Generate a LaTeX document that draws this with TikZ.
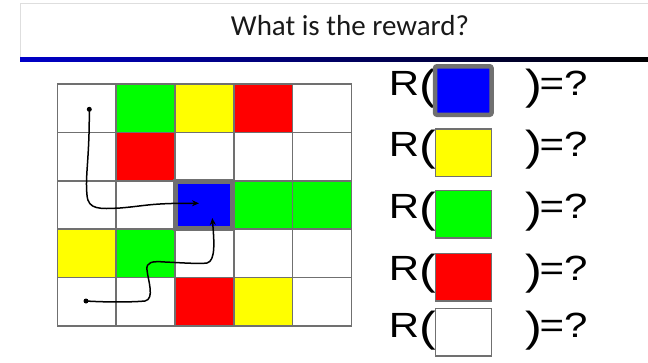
\documentclass[tikz,border=0pt]{standalone}
\usepackage{fontspec}
\usepackage{graphicx}
\setmainfont{Liberation Sans}
\newfontfamily\titlefont{Carlito}
\usetikzlibrary{arrows.meta}
\definecolor{cellgray}{RGB}{112,112,112}
\definecolor{framegray}{RGB}{222,222,222}
\definecolor{cgreen}{RGB}{0,255,0}
\definecolor{cyellow}{RGB}{255,255,0}
\definecolor{cred}{RGB}{255,0,0}
\definecolor{cblue}{RGB}{0,0,255}
\definecolor{lineblue}{RGB}{0,0,200}
\newcommand{\bigparen}[1]{\raisebox{-4pt}{\fontsize{42}{42}\selectfont #1}}
\tikzset{
  cell/.style={draw=cellgray, line width=1.6pt, minimum width=58.8pt, minimum height=48.4pt, inner sep=0pt},
  hicell/.style={draw=cellgray, line width=4.8pt, minimum width=57pt, minimum height=46.5pt, inner sep=0pt, fill=cblue},
  legbox/.style={draw=cellgray, line width=1.5pt, minimum width=56pt, minimum height=47.5pt, inner sep=0pt},
  hibox/.style={draw=cellgray, line width=4.5pt, rounded corners=2pt, minimum width=56.5pt, minimum height=48.5pt, inner sep=0pt, fill=cblue},
  lbl/.style={font=\fontsize{35}{35}\selectfont, inner sep=0pt, anchor=base west},
  dot/.style={circle, fill=black, inner sep=0pt, minimum size=5pt},
  traj/.style={black, line width=1.5pt, -{Stealth[length=7pt,width=6pt]}},
}
\begin{document}
\begin{tikzpicture}[x=1pt,y=-1pt]
\useasboundingbox (0,0) rectangle (648,362);
% header
\draw[framegray, line width=1pt] (20,59) -- (20,3) -- (648,3);
\shade[left color=lineblue, right color=black] (20,57) rectangle (648,61);
\node[font=\titlefont\fontsize{29}{29}\selectfont, anchor=base, inner sep=0pt, text=black!90] (title) at (350,35) {What is the reward?};
% grid
\foreach \r/\c/\col in {
 0/0/white,0/1/cgreen,0/2/cyellow,0/3/cred,0/4/white,
 1/0/white,1/1/cred,1/2/white,1/3/white,1/4/white,
 2/0/white,2/1/white,2/3/cgreen,2/4/cgreen,
 3/0/cyellow,3/1/cgreen,3/2/white,3/3/white,3/4/white,
 4/0/white,4/1/white,4/2/cred,4/3/cyellow,4/4/white}{
  \node[cell, fill=\col] (c\r\c) at ({57.3+58.8*(\c+0.5)},{84+48.4*(\r+0.5)}) {};
}
\node[hicell] (c22) at ({57.3+58.8*2.5},{84+48.4*2.5}) {};
% trajectories
\node[dot] (s1) at (89.3,109.3) {};
\coordinate (e1) at (199,203.3);
\draw[traj] (s1.center) .. controls (89.5,160) and (85,175) .. (87,195)
  .. controls (88,210) and (100,209) .. (120,208)
  .. controls (145,206) and (150,203) .. (e1);
\node[dot] (s2) at (86,301) {};
\coordinate (e2) at (212.3,218);
\draw[traj] (s2.center) .. controls (110,302.5) and (135,302) .. (145,301)
  .. controls (155,299) and (148,280) .. (147,270)
  .. controls (146,262) and (152,261) .. (165,262)
  .. controls (185,263) and (200,264) .. (207,263)
  .. controls (216,261) and (214,240) .. (e2);
% legend
\foreach \i/\y in {1/95,2/156.7,3/218.3,4/280,5/337}{
  \node[lbl] (rl\i) at (388.7,\y) {\scalebox{1.2}[1]{R\bigparen{(}}};
  \node[lbl] (rr\i) at (525.6,\y) {\scalebox{1.2}[1]{\bigparen{)}\kern-2.5pt=?}};
}
\node[hibox] (b1) at (463.3,90.5) {};
\node[legbox, fill=cyellow] (b2) at (463.5,152.5) {};
\node[legbox, fill=cgreen] (b3) at (463.5,214.2) {};
\node[legbox, fill=cred] (b4) at (463.5,277) {};
\node[legbox, fill=white] (b5) at (463.5,332) {};
\end{tikzpicture}
\end{document}
